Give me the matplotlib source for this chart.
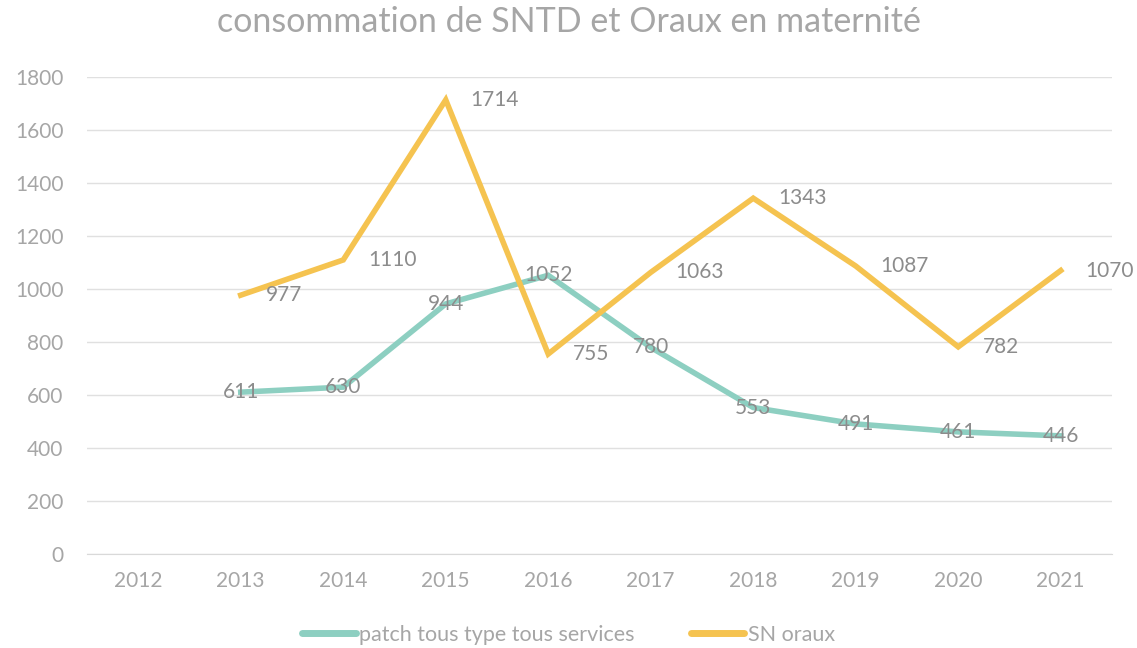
import matplotlib.pyplot as plt

years = ['2012', '2013', '2014', '2015', '2016', '2017', '2018', '2019', '2020', '2021']
patch = [None, 611, 630, 944, 1052, 780, 553, 491, 461, 446]
sn_oraux = [None, 977, 1110, 1714, 755, 1063, 1343, 1087, 782, 1070]

plt.rcParams['font.family'] = ['Lato', 'DejaVu Sans']
grey = '#a6a6a6'
teal = '#8dcfc1'
yellow = '#f5c350'

fig = plt.figure(figsize=(11.37, 6.48), dpi=100)
ax = fig.add_axes([0.0765, 0.145, 0.9015, 0.736])

x = list(range(len(years)))
xp = [i for i, v in zip(x, patch) if v is not None]
yp = [v for v in patch if v is not None]
xs = [i for i, v in zip(x, sn_oraux) if v is not None]
ys = [v for v in sn_oraux if v is not None]

ax.plot(xp, yp, color=teal, lw=4, solid_joinstyle='miter', label='patch tous type tous services')
ax.plot(xs, ys, color=yellow, lw=4, solid_joinstyle='miter', label='SN oraux')

for i, v in zip(xp, yp):
    ax.annotate(str(v), (i, v), ha='center', va='center', fontsize=15, color='#8c8c8c')
for i, v in zip(xs, ys):
    ax.annotate(str(v), (i, v), xytext=(18, 0), textcoords='offset points',
                ha='left', va='center', fontsize=15, color='#8c8c8c')

ax.set_xlim(-0.5, len(years) - 0.5)
ax.set_ylim(0, 1800)
ax.set_yticks(range(0, 1801, 200))
ax.set_xticks(x)
ax.set_xticklabels(years)
ax.tick_params(length=0, labelsize=15, labelcolor=grey, pad=12)
ax.tick_params(axis='y', pad=17)
ax.grid(axis='y', color='#e0e0e0', lw=1)
ax.set_axisbelow(True)
for s in ['top', 'right', 'left']:
    ax.spines[s].set_visible(False)
ax.spines['bottom'].set_color('#d9d9d9')

fig.suptitle('consommation de SNTD et Oraux en maternité', color=grey, fontsize=24.5, y=0.99)
leg = fig.legend(loc='lower center', ncol=2, frameon=False, fontsize=15.5, bbox_to_anchor=(0.5, -0.025),
                 handlelength=2.5, handletextpad=0.15, columnspacing=2.6)
for t in leg.get_texts():
    t.set_color(grey)
for h in leg.get_lines():
    h.set_linewidth(5)
    h.set_solid_capstyle('round')

fig.savefig('out.png', dpi=100)
